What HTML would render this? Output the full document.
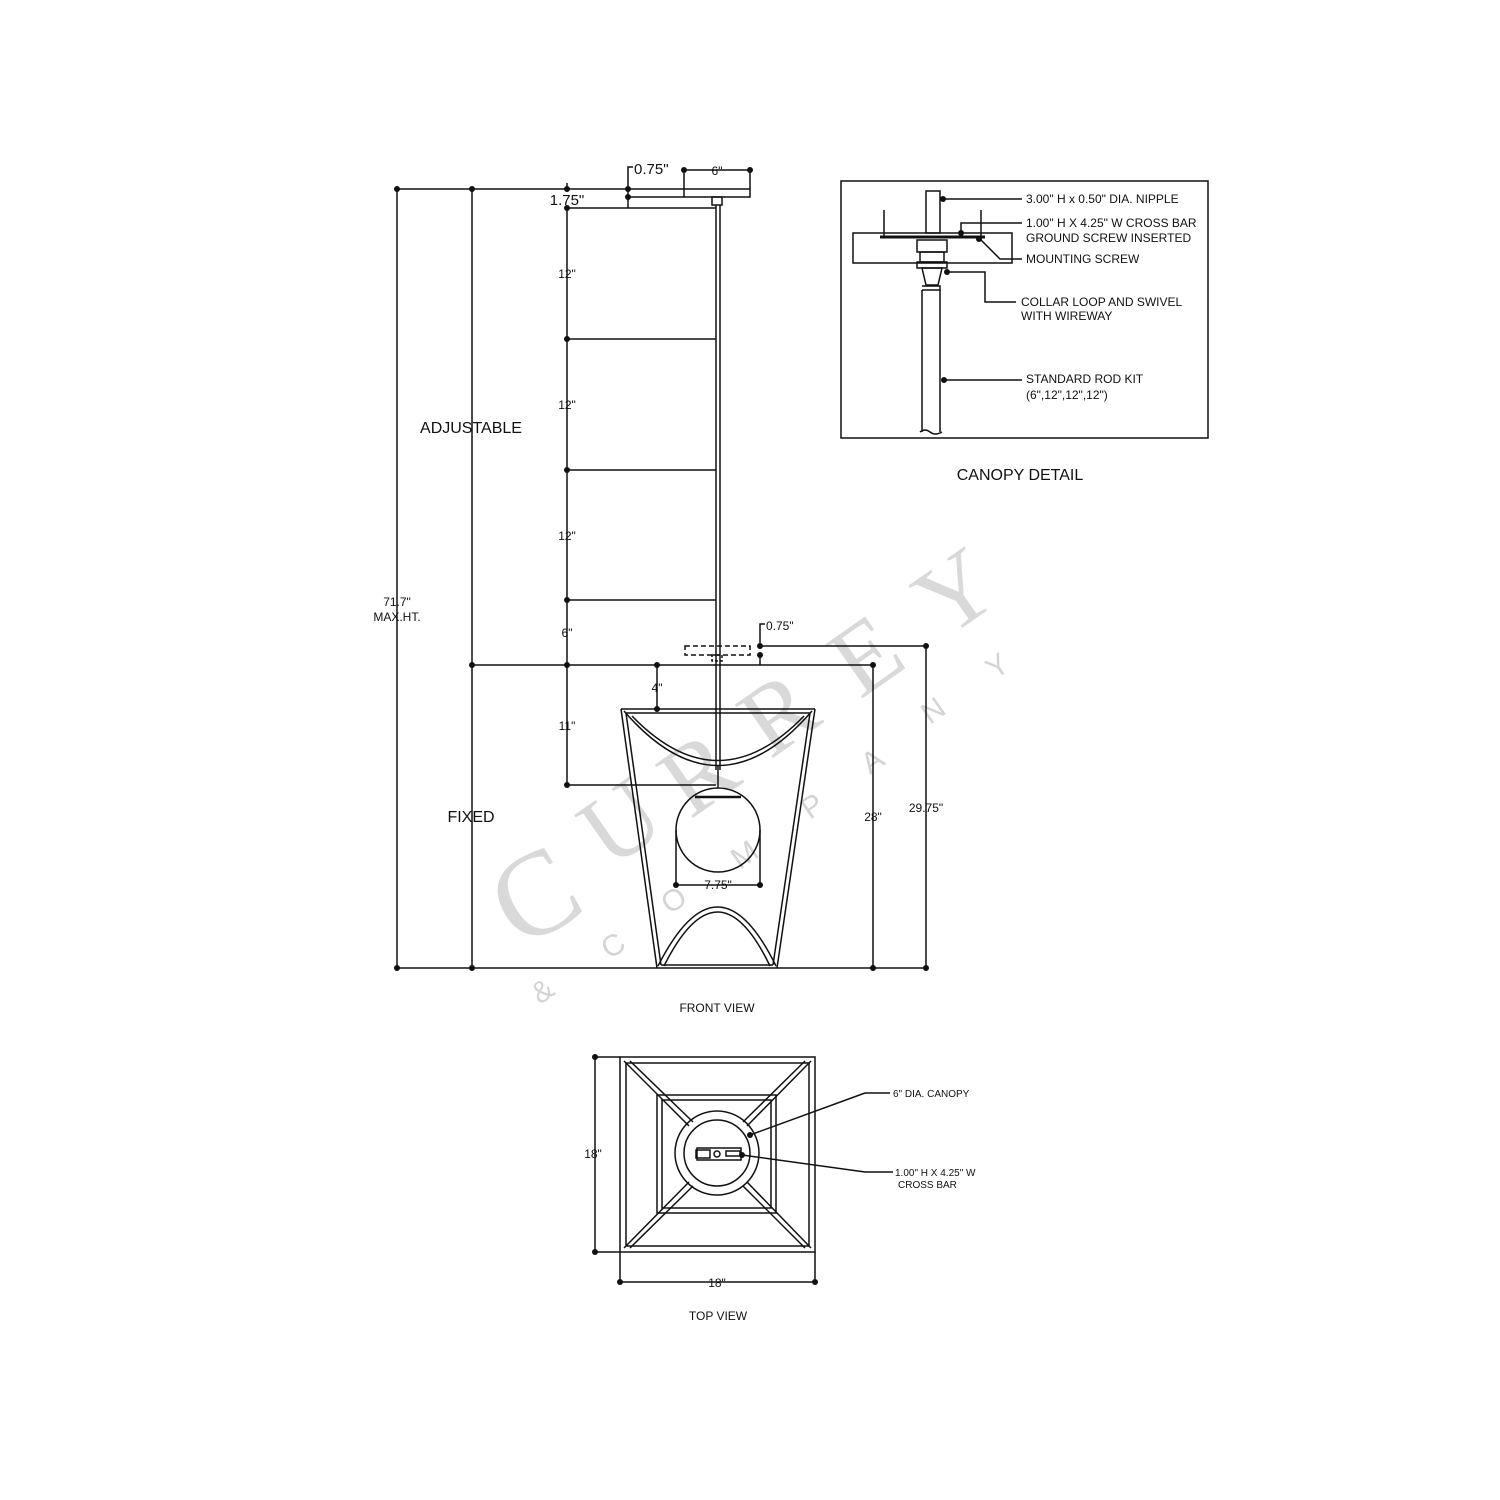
<!DOCTYPE html>
<html><head><meta charset="utf-8"><style>
html,body{margin:0;padding:0;background:#fff;}
svg{display:block;font-family:"Liberation Sans",sans-serif;}
</style></head><body>
<svg width="1500" height="1500" viewBox="0 0 1500 1500" xmlns="http://www.w3.org/2000/svg">
<rect width="1500" height="1500" fill="#fff"/>
<!-- watermark -->
<g fill="#d9d9d9" font-family="Liberation Serif,serif">
<text x="520" y="950" font-size="120" transform="rotate(-30 520 950)">C</text>
<text x="610" y="870" font-size="100" transform="rotate(-35 610 870)">U</text>
<text x="690" y="820" font-size="100" transform="rotate(-35 690 820)">R</text>
<text x="770" y="760" font-size="100" transform="rotate(-35 770 760)">R</text>
<text x="860" y="700" font-size="100" transform="rotate(-35 860 700)">E</text>
<text x="945" y="640" font-size="100" transform="rotate(-35 945 640)">Y</text>
<g font-size="30" font-family="Liberation Sans,sans-serif" fill="#d4d4d4">
<text x="540" y="1005" transform="rotate(-35 540 1005)">&amp;</text>
<text x="610" y="960" transform="rotate(-35 610 960)">C</text>
<text x="670" y="915" transform="rotate(-35 670 915)">O</text>
<text x="740" y="870" transform="rotate(-35 740 870)">M</text>
<text x="810" y="820" transform="rotate(-35 810 820)">P</text>
<text x="870" y="775" transform="rotate(-35 870 775)">A</text>
<text x="930" y="725" transform="rotate(-35 930 725)">N</text>
<text x="995" y="680" transform="rotate(-35 995 680)">Y</text>
</g></g>
<g stroke="#111" stroke-width="1.5" fill="none">
<line x1="397" y1="189" x2="684" y2="189"/>
<line x1="628" y1="197" x2="684" y2="197"/>
<line x1="567" y1="208" x2="716" y2="208"/>
<rect x="684" y="189" width="66" height="8"/>
<line x1="684" y1="170" x2="750" y2="170"/>
<line x1="684" y1="170" x2="684" y2="189"/><line x1="750" y1="170" x2="750" y2="189"/>
<polyline points="628,208 628,167 633,167"/>
<line x1="567" y1="183" x2="567" y2="189"/>
<rect x="712" y="197" width="10" height="8"/>
<line x1="716" y1="205" x2="716" y2="770"/><line x1="720" y1="205" x2="720" y2="770"/>
<line x1="397" y1="189" x2="397" y2="968"/>
<line x1="472" y1="189" x2="472" y2="968"/>
<line x1="567" y1="208" x2="567" y2="785"/>
<line x1="567" y1="339" x2="716" y2="339"/>
<line x1="567" y1="470" x2="716" y2="470"/>
<line x1="567" y1="600" x2="716" y2="600"/>
<line x1="472" y1="665" x2="873" y2="665"/>
<rect x="685" y="646" width="65" height="9" stroke-dasharray="5,3"/>
<rect x="712" y="655" width="10" height="6" stroke-dasharray="3,2"/>
<line x1="760" y1="646" x2="926" y2="646"/>
<line x1="760" y1="655" x2="760" y2="665"/>
<polyline points="760,646 760,624 765,624"/>
<line x1="657" y1="665" x2="657" y2="709"/>
<line x1="567" y1="785" x2="716" y2="785"/>
<line x1="873" y1="665" x2="873" y2="968"/>
<line x1="926" y1="646" x2="926" y2="968"/>
<line x1="397" y1="968" x2="926" y2="968"/>
<line x1="621" y1="709" x2="815" y2="709"/>
<line x1="626" y1="713" x2="810" y2="713"/>
<line x1="621" y1="709" x2="657" y2="968"/><line x1="626" y1="713" x2="661" y2="965"/>
<line x1="815" y1="709" x2="777" y2="968"/><line x1="810" y1="713" x2="773" y2="965"/>
<line x1="661" y1="965" x2="773" y2="965"/>
<path d="M624,711 Q718,820 812,711"/>
<path d="M632,716 Q718,805 804,716"/>
<path d="M658,966 Q718,848 776,966"/>
<path d="M664,966 Q718,858 770,966"/>
<line x1="718" y1="765" x2="718" y2="788"/>
<circle cx="718" cy="830" r="42"/>
<line x1="695" y1="797" x2="741" y2="797" stroke-width="2.5"/>
<polyline points="676,830 676,885 760,885 760,830"/>
<rect x="841" y="181" width="367" height="257"/>
<rect x="853" y="233" width="159" height="30"/>
<rect x="926" y="191" width="14" height="42"/>
<line x1="880" y1="237" x2="985" y2="237" stroke-width="3"/>
<line x1="884" y1="210" x2="884" y2="237"/><line x1="981" y1="210" x2="981" y2="237"/>
<rect x="917" y="240" width="30" height="12"/>
<rect x="920" y="252" width="24" height="10"/>
<rect x="917" y="262" width="30" height="6"/>
<path d="M922,268 L942,268 L938,285 L926,285 Z"/>
<line x1="922" y1="290" x2="922" y2="432"/><line x1="940" y1="290" x2="940" y2="432"/>
<path d="M922,286 L940,286 L940,290 L922,290"/>
<path d="M920,432 q5,-4 10,0 q5,4 12,0"/>
<line x1="943" y1="199" x2="1022" y2="199"/>
<polyline points="961,233 961,223 1022,223"/>
<polyline points="979,238 1000,259 1022,259"/>
<polyline points="947,272 985,272 985,302 1016,302"/>
<line x1="944" y1="380" x2="1022" y2="380"/>
<rect x="620" y="1057" width="195" height="195"/>
<rect x="626" y="1063" width="183" height="183"/>
<rect x="657" y="1095" width="119" height="118"/>
<rect x="662" y="1100" width="109" height="108"/>
<line x1="624" y1="1061" x2="689" y2="1126"/><line x1="630" y1="1061" x2="693" y2="1122"/>
<line x1="811" y1="1061" x2="747" y2="1126"/><line x1="805" y1="1061" x2="743" y2="1122"/>
<line x1="624" y1="1248" x2="689" y2="1182"/><line x1="630" y1="1248" x2="693" y2="1186"/>
<line x1="811" y1="1248" x2="747" y2="1182"/><line x1="805" y1="1248" x2="743" y2="1186"/>
<circle cx="717" cy="1153" r="42"/>
<circle cx="717" cy="1153" r="33"/>
<rect x="696" y="1150" width="14" height="8"/><circle cx="717" cy="1154" r="3"/><rect x="726" y="1151" width="14" height="5"/>
<rect x="697" y="1148" width="44" height="12"/>
<line x1="595" y1="1057" x2="595" y2="1252"/>
<line x1="595" y1="1057" x2="620" y2="1057"/><line x1="595" y1="1252" x2="620" y2="1252"/>
<line x1="620" y1="1282" x2="815" y2="1282"/>
<line x1="620" y1="1252" x2="620" y2="1282"/><line x1="815" y1="1252" x2="815" y2="1282"/>
<line x1="750" y1="1135" x2="865" y2="1093"/><line x1="865" y1="1093" x2="890" y2="1093"/>
<line x1="742" y1="1155" x2="865" y2="1172"/><line x1="865" y1="1172" x2="893" y2="1172"/>
</g>
<g fill="#111">
<circle cx="684" cy="170" r="3"/><circle cx="750" cy="170" r="3"/>
<circle cx="628" cy="189" r="3"/><circle cx="628" cy="197" r="3"/>
<circle cx="567" cy="189" r="3"/><circle cx="567" cy="208" r="3"/>
<circle cx="397" cy="189" r="3"/><circle cx="472" cy="189" r="3"/>
<circle cx="567" cy="339" r="3"/><circle cx="567" cy="470" r="3"/><circle cx="567" cy="600" r="3"/>
<circle cx="472" cy="665" r="3"/><circle cx="567" cy="665" r="3"/><circle cx="657" cy="665" r="3"/>
<circle cx="657" cy="709" r="3"/><circle cx="567" cy="785" r="3"/>
<circle cx="760" cy="646" r="3"/><circle cx="760" cy="655" r="3"/>
<circle cx="873" cy="665" r="3"/><circle cx="926" cy="646" r="3"/>
<circle cx="397" cy="968" r="3"/><circle cx="472" cy="968" r="3"/><circle cx="873" cy="968" r="3"/><circle cx="926" cy="968" r="3"/>
<circle cx="676" cy="885" r="3"/><circle cx="760" cy="885" r="3"/>
<circle cx="943" cy="199" r="3"/><circle cx="961" cy="233" r="3"/><circle cx="979" cy="239" r="3"/><circle cx="947" cy="272" r="3"/><circle cx="944" cy="380" r="3"/>
<circle cx="595" cy="1057" r="3"/><circle cx="595" cy="1252" r="3"/><circle cx="620" cy="1282" r="3"/><circle cx="815" cy="1282" r="3"/>
<circle cx="750" cy="1135" r="3"/><circle cx="742" cy="1155" r="3"/>
</g>
<g fill="#111" font-size="12">
<text x="634" y="174" font-size="15">0.75"</text>
<text x="717" y="175" text-anchor="middle">6"</text>
<text x="567" y="205" text-anchor="middle" font-size="15">1.75"</text>
<text x="567" y="278" text-anchor="middle">12"</text>
<text x="567" y="409" text-anchor="middle">12"</text>
<text x="567" y="540" text-anchor="middle">12"</text>
<text x="567" y="637" text-anchor="middle">6"</text>
<text x="657" y="692" text-anchor="middle">4"</text>
<text x="567" y="730" text-anchor="middle">11"</text>
<text x="766" y="630">0.75"</text>
<text x="873" y="821" text-anchor="middle">28"</text>
<text x="926" y="812" text-anchor="middle">29.75"</text>
<text x="718" y="889" text-anchor="middle">7.75"</text>
<text x="397" y="606" text-anchor="middle">71.7"</text>
<text x="397" y="621" text-anchor="middle">MAX.HT.</text>
<text x="471" y="433" text-anchor="middle" font-size="16">ADJUSTABLE</text>
<text x="471" y="822" text-anchor="middle" font-size="16">FIXED</text>
<text x="717" y="1012" text-anchor="middle">FRONT VIEW</text>
<text x="1020" y="480" text-anchor="middle" font-size="16">CANOPY DETAIL</text>
<text x="1026" y="203">3.00" H x 0.50" DIA. NIPPLE</text>
<text x="1026" y="227">1.00" H X 4.25" W CROSS BAR</text>
<text x="1026" y="242">GROUND SCREW INSERTED</text>
<text x="1026" y="263">MOUNTING SCREW</text>
<text x="1021" y="306">COLLAR LOOP AND SWIVEL</text>
<text x="1021" y="320">WITH WIREWAY</text>
<text x="1026" y="383">STANDARD ROD KIT</text>
<text x="1026" y="399">(6",12",12",12")</text>
<text x="593" y="1158" text-anchor="middle">18"</text>
<text x="717" y="1287" text-anchor="middle">18"</text>
<text x="893" y="1097" font-size="10">6" DIA. CANOPY</text>
<text x="895" y="1176" font-size="10">1.00" H X 4.25" W</text>
<text x="898" y="1188" font-size="10">CROSS BAR</text>
<text x="718" y="1320" text-anchor="middle">TOP VIEW</text>
</g>
</svg>
</body></html>
